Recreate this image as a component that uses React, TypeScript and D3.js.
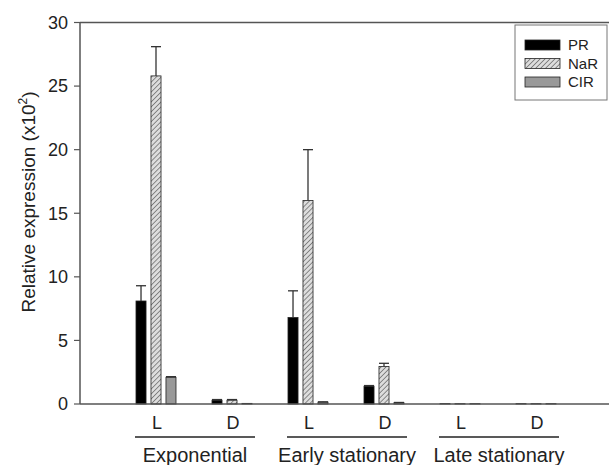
import React from 'react';
import * as d3 from 'd3';

const groups = ['Exp-L', 'Exp-D', 'Early-L', 'Early-D', 'Late-L', 'Late-D'];
const groupTicks = ['L', 'D', 'L', 'D', 'L', 'D'];
const phases = ['Exponential', 'Early stationary', 'Late stationary'];
const series = ['PR', 'NaR', 'CIR'];
const prValues = [8.1, 0.3, 6.8, 1.4, 0.03, 0.03];
const prErrors = [1.2, 0.05, 2.1, 0.05, 0, 0];
const narValues = [25.8, 0.3, 16.0, 2.95, 0.03, 0.03];
const narErrors = [2.3, 0.05, 4.0, 0.25, 0, 0];
const cirValues = [2.1, 0.05, 0.15, 0.1, 0.03, 0.03];
const cirErrors = [0.05, 0, 0.02, 0.02, 0, 0];
const yTicks = [0, 5, 10, 15, 20, 25, 30];

const W = 609;
const H = 465;
const m = { left: 80, right: 0, top: 22.5, bottom: 61 };
const font = 'Liberation Sans, Arial, sans-serif';
const axisColor = '#555';

export default function App() {
  const y = d3.scaleLinear().domain([0, 30]).range([H - m.bottom, m.top]);
  const x = d3.scaleBand().domain(groups).range([119, 575]).padding(0);
  const inner = d3.scaleBand().domain(series).range([-24, 22]).paddingInner(0.33).paddingOuter(0.2);
  const vals = [prValues, narValues, cirValues];
  const errs = [prErrors, narErrors, cirErrors];
  const fills = ['#000', 'url(#hatch)', '#999'];
  const center = (g: string) => (x(g) as number) + x.bandwidth() / 2;
  const bw = inner.bandwidth();

  return (
    <svg width={W} height={H} style={{ position: 'absolute', left: 0, top: 0, background: '#fff' }}>
      <defs>
        <pattern id="hatch" patternUnits="userSpaceOnUse" width="3.5" height="3.5" patternTransform="rotate(45)">
          <rect width="3.5" height="3.5" fill="#ddd" />
          <line x1="0" y1="0" x2="0" y2="3.5" stroke="#333" strokeWidth="1" />
        </pattern>
      </defs>

      {/* frame */}
      <line x1={m.left} x2={W} y1={m.top} y2={m.top} stroke={axisColor} strokeWidth={1.5} />
      <line x1={m.left} x2={m.left} y1={m.top} y2={y(0)} stroke={axisColor} strokeWidth={1.5} />

      {/* y ticks */}
      {yTicks.map(t => (
        <g key={t} transform={`translate(0,${y(t)})`}>
          <line x1={m.left - 6} x2={m.left} stroke={axisColor} strokeWidth={1.2} />
          <text x={m.left - 12} dy="0.35em" textAnchor="end" fontFamily={font} fontSize={18} fill="#222">{t}</text>
        </g>
      ))}
      <text transform={`translate(28,202) rotate(-90)`} textAnchor="middle" dy="0.35em"
        fontFamily={font} fontSize={19} fill="#222">
        Relative expression (x10<tspan dy="-8" fontSize={12}>2</tspan><tspan dy="8">)</tspan>
      </text>

      {/* bars */}
      {series.map((s, si) => groups.map((g, gi) => {
        const bx = center(g) + (inner(s) as number);
        const v = vals[si][gi];
        const e = errs[si][gi];
        return (
          <g key={s + g}>
            <rect x={bx} y={y(v)} width={bw} height={y(0) - y(v)} fill={fills[si]} stroke="#222" strokeWidth={0.8} />
            {e > 0 && (
              <g stroke="#333" strokeWidth={1.3}>
                <line x1={bx + bw / 2} x2={bx + bw / 2} y1={y(v)} y2={y(v + e)} />
                <line x1={bx} x2={bx + bw} y1={y(v + e)} y2={y(v + e)} />
              </g>
            )}
          </g>
        );
      }))}

      {/* x axis */}
      <line x1={m.left} x2={W} y1={y(0)} y2={y(0)} stroke={axisColor} strokeWidth={1.5} />
      {groups.map((g, i) => (
        <text key={g} x={center(g)} y={423} dy="0.35em" textAnchor="middle" fontFamily={font} fontSize={18} fill="#222">{groupTicks[i]}</text>
      ))}
      {phases.map((p, i) => {
        const c = (center(groups[i * 2]) + center(groups[i * 2 + 1])) / 2;
        return (
          <g key={p}>
            <line x1={c - 60} x2={c + 60} y1={437} y2={437} stroke="#222" strokeWidth={1.5} />
            <text x={c} y={455} dy="0.35em" textAnchor="middle" fontFamily={font} fontSize={20} fill="#222">{p}</text>
          </g>
        );
      })}

      {/* legend */}
      <rect x={515} y={25} width={92} height={75} fill="#fff" stroke="#777" strokeWidth={1} />
      {series.map((s, i) => (
        <g key={s} transform={`translate(525,${45 + i * 18.5})`}>
          <rect x={0} y={-5} width={35} height={10} fill={fills[i]} stroke="#222" strokeWidth={0.8} />
          <text x={43} dy="0.35em" fontFamily={font} fontSize={15} fill="#222">{s}</text>
        </g>
      ))}
    </svg>
  );
}
